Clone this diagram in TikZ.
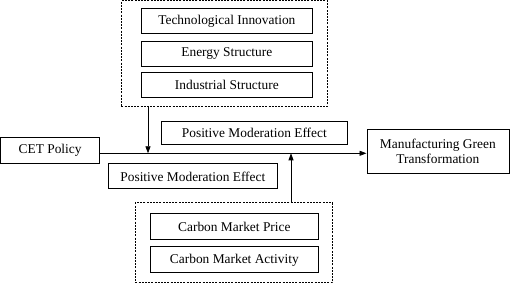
\documentclass[tikz,border=0pt]{standalone}
\usepackage{fontspec}
\setmainfont{Liberation Serif}
\usetikzlibrary{arrows.meta}
\begin{document}
\begin{tikzpicture}[x=1pt,y=-1pt,
  box/.style={draw, line width=0.7pt, inner sep=0pt, anchor=north west, font=\fontsize{13.4}{15}\selectfont, align=center},
  group/.style={draw, line width=0.8pt, densely dashed, dash pattern=on 2pt off 1.2pt, inner sep=0pt, anchor=north west},
  arr/.style={line width=0.8pt, -{Triangle[length=7pt,width=5pt]}}]
\useasboundingbox (0,0) rectangle (512,283);
% top group
\node[group, minimum width=206pt, minimum height=105.5pt] (top) at (121,0.5) {};
\node[box, minimum width=171pt, minimum height=25pt] (tech) at (141,8) {Technological Innovation};
\node[box, minimum width=171pt, minimum height=25pt] (energy) at (141,41) {Energy Structure};
\node[box, minimum width=171pt, minimum height=25pt] (indus) at (141,72.5) {Industrial Structure};
% bottom group
\node[group, minimum width=197pt, minimum height=80pt] (bot) at (135,202.5) {};
\node[box, minimum width=168pt, minimum height=26pt] (price) at (150,213.5) {Carbon Market Price};
\node[box, minimum width=168pt, minimum height=26pt] (activity) at (150,246.5) {Carbon Market Activity};
% main nodes
\node[box, minimum width=98.5pt, minimum height=26pt] (cet) at (0.5,137) {CET Policy};
\node[box, minimum width=142pt, minimum height=44pt] (mgt) at (366.5,129.5) {Manufacturing Green\\Transformation};
\node[box, minimum width=186pt, minimum height=23.5pt] (pme1) at (161,121) {Positive Moderation Effect};
\node[box, minimum width=169pt, minimum height=25pt] (pme2) at (108,163.5) {Positive Moderation Effect};
% connectors
\coordinate (j1) at (148,153.3);
\coordinate (j2) at (291,153.3);
\draw[arr] (cet.east |- j1) -- (mgt.west |- j1);
\draw[arr] (top.south -| j1) -- (j1);
\draw[arr] (bot.north -| j2) -- (j2);
\end{tikzpicture}
\end{document}
